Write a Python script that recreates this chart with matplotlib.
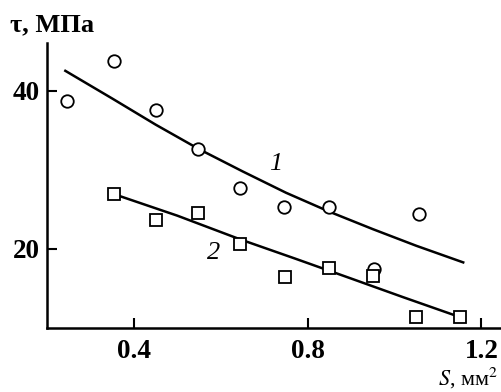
import matplotlib
matplotlib.use("Agg")
import matplotlib.pyplot as plt

plt.rcParams['font.family'] = ['Liberation Serif', 'DejaVu Serif']
plt.rcParams['mathtext.fontset'] = 'stix'

# experimental points
s1 = [0.246, 0.353, 0.45, 0.547, 0.643, 0.745, 0.85, 0.953, 1.056]
tau1 = [38.7, 43.7, 37.6, 32.6, 27.7, 25.3, 25.3, 17.5, 24.4]
s2 = [0.353, 0.45, 0.547, 0.643, 0.747, 0.85, 0.951, 1.05, 1.15]
tau2 = [27.0, 23.7, 24.6, 20.6, 16.5, 17.6, 16.6, 11.4, 11.4]

# fitted curves as drawn
fit1_s = [0.242, 0.35, 0.45, 0.55, 0.65, 0.75, 0.85, 0.95, 1.05, 1.158]
fit1_tau = [42.5, 39.0, 35.7, 32.6, 29.8, 27.1, 24.7, 22.5, 20.4, 18.3]
fit2_s = [0.366, 0.5, 0.645, 0.77, 0.898, 1.02, 1.15]
fit2_tau = [26.7, 24.2, 21.2, 18.8, 16.3, 13.9, 11.4]

fig = plt.figure(figsize=(5.01, 3.92), dpi=100)
ax = fig.add_axes([0.094, 0.163, 0.906, 0.727])

ax.plot(fit1_s, fit1_tau, color='black', lw=1.8)
ax.plot(fit2_s, fit2_tau, color='black', lw=1.8)
ax.plot(s1, tau1, 'o', mfc='white', mec='black', ms=9, mew=1.3)
ax.plot(s2, tau2, 's', mfc='white', mec='black', ms=9, mew=1.3)

ax.text(0.726, 30.7, '1', fontsize=19, style='italic', ha='center', va='center')
ax.text(0.583, 19.5, '2', fontsize=19, style='italic', ha='center', va='center')

ax.set_xlim(0.2, 1.245)
ax.set_ylim(10, 46)
ax.set_xticks([0.4, 0.8, 1.2])
ax.set_xticklabels(['0.4', '0.8', '1.2'])
ax.set_yticks([20, 40])
ax.tick_params(direction='in', length=7, width=1.5, labelsize=19.5)
ax.tick_params(axis='x', pad=8)
ax.tick_params(axis='y', pad=5)
for lab in ax.get_xticklabels() + ax.get_yticklabels():
    lab.set_fontweight('bold')
ax.spines['top'].set_visible(False)
ax.spines['right'].set_visible(False)
ax.spines['left'].set_linewidth(1.8)
ax.spines['bottom'].set_linewidth(1.8)

fig.text(0.02, 0.936, 'τ, МПа', fontsize=19, fontweight='bold', va='center', ha='left')
fig.text(0.994, 0.003, '$S$, мм$^2$', fontsize=16, va='bottom', ha='right')

fig.savefig('out.png', dpi=100)
